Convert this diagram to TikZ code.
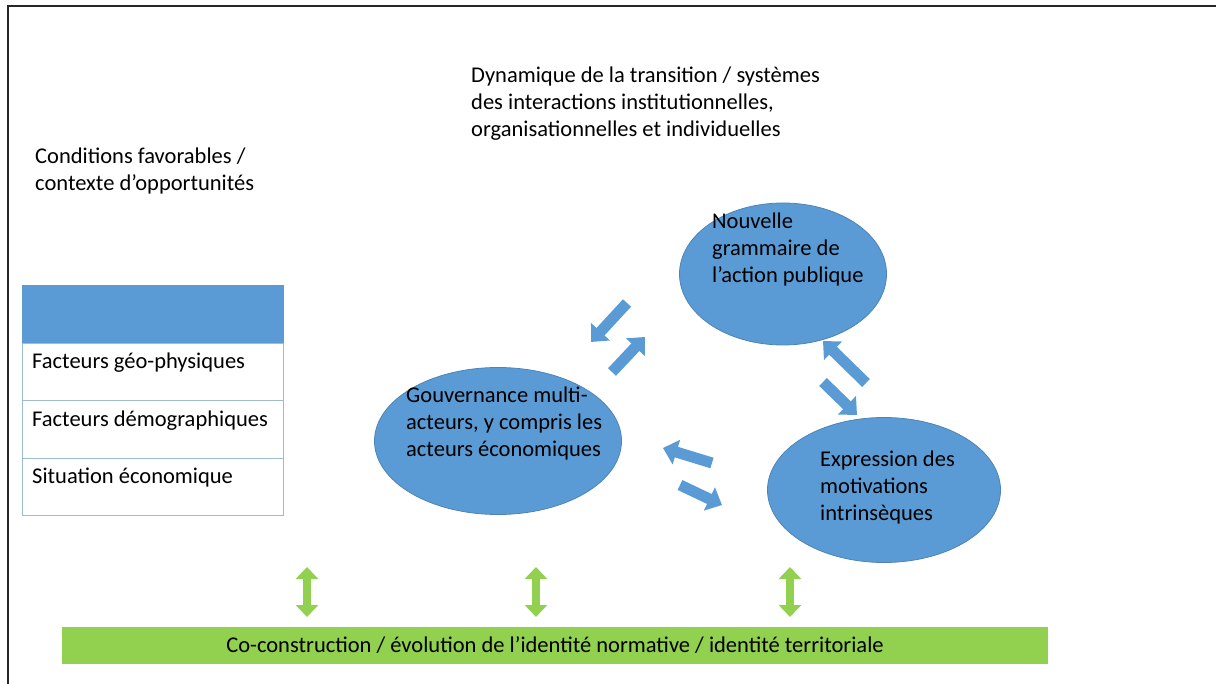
\documentclass[tikz,border=0pt]{standalone}
\usepackage{fontspec}
\setmainfont{Carlito}
\usetikzlibrary{arrows.meta,shapes.geometric}
\definecolor{bulle}{RGB}{91,155,213}
\definecolor{vert}{RGB}{146,208,80}
\definecolor{bord}{RGB}{160,186,210}
\begin{document}
\begin{tikzpicture}[x=1pt, y=-1pt, font=\fontsize{22.5}{27}\selectfont,
  bubble/.style={ellipse, fill=bulle, draw=bulle!85!black, line width=0.8pt},
  bubbletext/.style={anchor=west, align=left, inner sep=0pt},
  cell/.style={draw=bord, line width=0.8pt, minimum width=261pt, minimum height=57.5pt, inner sep=0pt},
  bluearrow/.style={bulle, line width=11pt, -{Triangle[width=25pt,length=14pt]}},
  greenarrow/.style={vert, line width=8pt, {Triangle[width=22pt,length=12pt]}-{Triangle[width=22pt,length=12pt]}}]
  \useasboundingbox (0,0) rectangle (1216,684);
  % Outer frame (only left and top edges visible)
  \draw[line width=1.6pt, black!85] (8,700) -- (8,6) -- (1240,6);

  % Titles
  \node[bubbletext] (dynamique) at (471,104) {Dynamique de la transition / systèmes\\des interactions institutionnelles,\\organisationnelles et individuelles};
  \node[bubbletext] (conditions) at (35,171) {Conditions favorables /\\contexte d’opportunités};

  % Table of factors
  \node[cell, fill=bulle, draw=bulle] (entete) at (152.5,314.5) {};
  \foreach \txt [count=\i] in {Facteurs géo-physiques, Facteurs démographiques, Situation économique} {
    \node[cell] (ligne\i) at (152.5,{343+57.5*(\i-0.5)}) {};
    \node[bubbletext] (facteur\i) at (32,{363+57.5*(\i-1)}) {\txt}; % Row label
  }

  % The three bubbles
  \node[bubble, minimum width=207pt, minimum height=142pt] (grammaire) at (783,274) {};
  \node[bubbletext] (grammairetxt) at (712,250) {Nouvelle\\grammaire de\\l’action publique};
  \node[bubble, minimum width=247pt, minimum height=147pt] (gouvernance) at (498,441) {};
  \node[bubbletext] (gouvernancetxt) at (406,424) {Gouvernance multi-\\acteurs, y compris les\\acteurs économiques};
  \node[bubble, minimum width=233pt, minimum height=145pt] (expression) at (884,490) {};
  \node[bubbletext] (expressiontxt) at (820,488) {Expression des\\motivations\\intrinsèques};

  % Block arrows between the bubbles
  \draw[bluearrow] (627,303) -- (591,342);
  \draw[bluearrow] (612,372) -- (645,337);
  \draw[bluearrow] (866,383) -- (823,341);
  \draw[bluearrow] (823,382) -- (857,415);
  \draw[bluearrow] (712,463) -- (663,448);
  \draw[bluearrow] (680,485) -- (722,505);

  % Bottom bar and its links
  \node[fill=vert, minimum width=986pt, minimum height=37pt, inner sep=0pt] (identite) at (555,645.5) {Co-construction / évolution de l’identité normative / identité territoriale};
  \foreach \x in {307,536,790} {
    \draw[greenarrow] (\x,567) -- (\x,617); % Double arrow
  }
\end{tikzpicture}
\end{document}
